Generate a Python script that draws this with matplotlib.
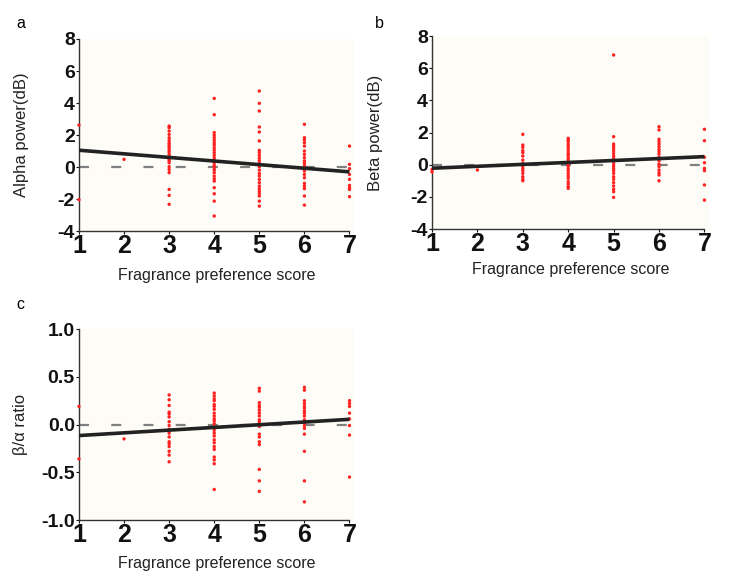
import numpy as np
import matplotlib
matplotlib.use("Agg")
import matplotlib.pyplot as plt

plt.rcParams['font.family'] = ['Liberation Sans', 'DejaVu Sans']

scores = [1, 2, 3, 4, 5, 6, 7]

alpha = {
    1: [2.62, -2.04],
    2: [0.48],
    3: [2.56, 2.46, 2.25, 2.04, 1.83, 1.67, 1.52, 1.42, 1.31, 1.21, 1.06, 0.94,
        0.79, 0.65, 0.48, 0.38, 0.27, 0.02, -0.15, -0.35, -1.40, -1.77, -2.33],
    4: [4.29, 3.27, 2.15, 1.98, 1.83, 1.67, 1.52, 1.38, 1.21, 1.06, 0.90, 0.73,
        0.56, 0.40, 0.27, 0.10, -0.04, -0.19, -0.35, -0.56, -0.73, -0.88, -1.29,
        -1.67, -2.13, -3.06],
    5: [4.75, 3.98, 3.50, 2.50, 2.19, 1.63, 1.04, 0.90, 0.73, 0.56, 0.40, 0.23,
        0.02, -0.19, -0.40, -0.56, -0.77, -0.98, -1.19, -1.35, -1.50, -1.65,
        -1.81, -2.13, -2.44],
    6: [2.67, 1.83, 1.69, 1.52, 1.31, 1.00, 0.79, 0.58, 0.38, 0.23, 0.06, -0.10,
        -0.25, -0.46, -0.67, -1.02, -1.19, -1.35, -1.81, -2.38],
    7: [1.31, 0.17, -0.10, -0.46, -0.77, -1.15, -1.29, -1.40, -1.85],
}

beta = {
    1: [-0.30, -0.45],
    2: [-0.33],
    3: [1.89, 1.22, 1.08, 0.87, 0.75, 0.54, 0.29, 0.08, -0.08, -0.23, -0.37,
        -0.54, -0.75, -0.91, -1.00],
    4: [1.64, 1.53, 1.43, 1.28, 1.16, 1.02, 0.87, 0.70, 0.60, 0.46, 0.33, 0.19,
        0.04, -0.08, -0.23, -0.37, -0.54, -0.70, -0.85, -1.06, -1.20, -1.37, -1.47],
    5: [6.82, 1.74, 1.28, 1.16, 1.02, 0.87, 0.70, 0.54, 0.39, 0.25, 0.08, -0.08,
        -0.23, -0.37, -0.54, -0.75, -0.91, -1.12, -1.33, -1.53, -1.68, -2.03],
    6: [2.36, 2.16, 1.58, 1.43, 1.28, 1.12, 0.95, 0.81, 0.66, 0.46, 0.25, 0.04,
        -0.12, -0.33, -0.50, -0.64, -1.00],
    7: [2.20, 1.49, 0.46, 0.12, -0.23, -0.37, -1.26, -2.20],
}

ratio = {
    1: [0.19, -0.36],
    2: [-0.15],
    3: [0.31, 0.26, 0.20, 0.13, 0.11, 0.08, 0.03, -0.01, -0.05, -0.09, -0.13,
        -0.18, -0.20, -0.23, -0.28, -0.32, -0.39],
    4: [0.33, 0.30, 0.27, 0.25, 0.21, 0.19, 0.16, 0.12, 0.09, 0.06, 0.04, 0.01,
        -0.02, -0.06, -0.09, -0.12, -0.16, -0.19, -0.23, -0.26, -0.34, -0.37,
        -0.41, -0.68],
    5: [0.38, 0.35, 0.23, 0.20, 0.18, 0.15, 0.12, 0.09, 0.05, 0.03, -0.02, -0.10,
        -0.13, -0.18, -0.21, -0.47, -0.59, -0.70],
    6: [0.39, 0.36, 0.25, 0.22, 0.19, 0.17, 0.14, 0.12, 0.09, 0.05, 0.02, -0.01,
        -0.04, -0.10, -0.28, -0.59, -0.81],
    7: [0.25, 0.22, 0.19, 0.12, 0.06, -0.01, -0.11, -0.55],
}

# fitted line end values at score 1 and 7
fit_alpha = [1.05, -0.30]
fit_beta = [-0.22, 0.50]
fit_ratio = [-0.115, 0.055]

bg = '#fdfcf6'
red = '#ff2222'


def panel(ax, data, fit, ylim, yticks, yticklabels, ylabel, ylab_x, xlab_y):
    ax.set_facecolor(bg)
    xs = []
    ys = []
    for s in scores:
        xs += [s] * len(data[s])
        ys += data[s]
    ax.axhline(0, color='#808080', lw=1.6, dashes=(4.5, 10), zorder=2)
    ax.scatter(xs, ys, s=6, color=red, edgecolors='none', zorder=3, clip_on=False)
    ax.plot([scores[0], scores[-1]], fit, color='#222222', lw=2.6,
            solid_capstyle='butt', zorder=4)
    ax.set_xlim(1, 7.1)
    ax.set_ylim(*ylim)
    ax.set_xticks(scores)
    ax.set_yticks(yticks)
    ax.set_yticklabels(yticklabels)
    for side in ['top', 'right']:
        ax.spines[side].set_visible(False)
    for side in ['left', 'bottom']:
        ax.spines[side].set_color('#333333')
        ax.spines[side].set_linewidth(1.0)
    ax.spines['bottom'].set_bounds(1, 7)
    ax.tick_params(length=2, width=0.8, colors='#111111')
    ax.tick_params(axis='x', pad=0)
    ax.tick_params(axis='y', pad=1)
    for lab in ax.get_xticklabels():
        lab.set_fontweight('bold')
        lab.set_fontsize(18)
    for lab in ax.get_yticklabels():
        lab.set_fontweight('bold')
        lab.set_fontsize(14)
    ax.set_xlabel('Fragrance preference score', fontsize=11.5, color='#222222')
    ax.set_ylabel(ylabel, fontsize=12, color='#222222')
    ax.yaxis.set_label_coords(ylab_x, 0.5)
    ax.xaxis.set_label_coords(0.5, xlab_y)


fig = plt.figure(figsize=(7.5, 5.82), dpi=100)

ax_a = fig.add_axes([0.1053, 0.603, 0.3667, 0.330])
ax_b = fig.add_axes([0.576, 0.6065, 0.3693, 0.3316])
ax_c = fig.add_axes([0.1053, 0.1065, 0.3667, 0.328])

power_ticks = [-4, -2, 0, 2, 4, 6, 8]
panel(ax_a, alpha, fit_alpha, (-4, 8), power_ticks, [str(t) for t in power_ticks],
      'Alpha power(dB)', -0.18, -0.19)
panel(ax_b, beta, fit_beta, (-4, 8), power_ticks, [str(t) for t in power_ticks],
      'Beta power(dB)', -0.177, -0.17)
ratio_ticks = [-1.0, -0.5, 0.0, 0.5, 1.0]
panel(ax_c, ratio, fit_ratio, (-1.0, 1.0), ratio_ticks,
      ['%.1f' % t for t in ratio_ticks], 'β/α ratio', -0.185, -0.19)

fig.text(0.022, 0.96, 'a', fontsize=11.5, va='center')
fig.text(0.500, 0.96, 'b', fontsize=11.5, va='center')
fig.text(0.022, 0.476, 'c', fontsize=11.5, va='center')

fig.savefig('out.png', dpi=100, facecolor='white')
